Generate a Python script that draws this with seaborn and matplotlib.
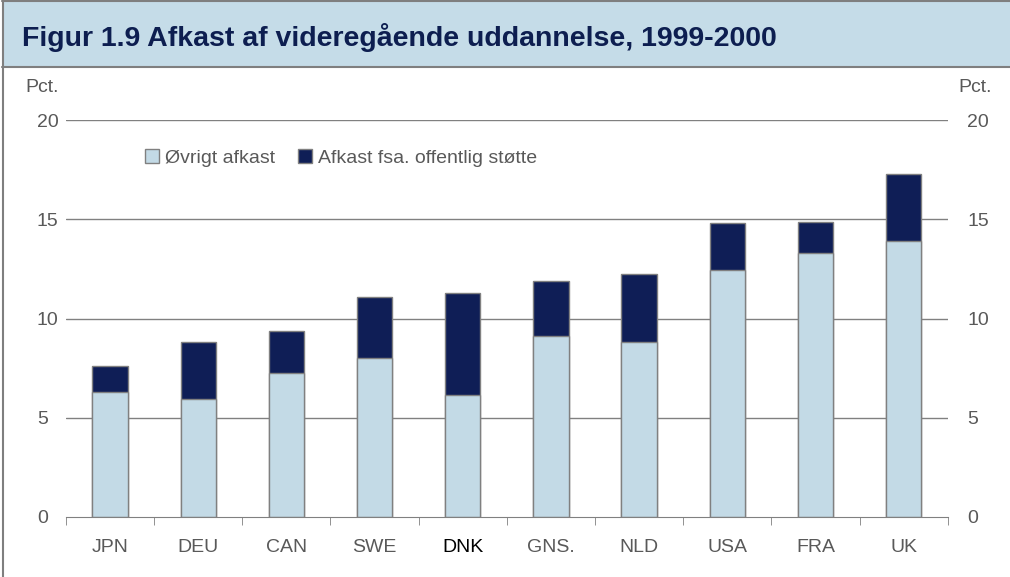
import pandas as pd
import matplotlib.pyplot as plt
import seaborn as sns
from matplotlib.patches import Rectangle, Patch

countries = ['JPN', 'DEU', 'CAN', 'SWE', 'DNK', 'GNS.', 'NLD', 'USA', 'FRA', 'UK']
ovrigt = [6.3, 5.95, 7.25, 8.0, 6.15, 9.1, 8.8, 12.45, 13.3, 13.9]
stotte = [1.3, 2.85, 2.1, 3.1, 5.15, 2.8, 3.45, 2.35, 1.55, 3.4]

light = '#C3DAE6'
dark = '#0F1E56'
grey = '#595959'

df = pd.DataFrame({'land': countries, 'ovrigt': ovrigt, 'stotte': stotte})
df['total'] = df['ovrigt'] + df['stotte']

sns.set_style('white')
plt.rcParams['font.family'] = ['Liberation Sans', 'DejaVu Sans']

fig = plt.figure(figsize=(10.1, 5.77), dpi=100)
ax = fig.add_axes([0.0653, 0.104, 0.873, 0.688])

# header band and frame
fig.patches.append(Rectangle((0.002, 0.885), 0.998, 0.113, transform=fig.transFigure,
                             facecolor='#C5DCE8', edgecolor='none', zorder=0))
fig.add_artist(plt.Line2D([0.002, 1], [0.884, 0.884], color='#7F7F7F', lw=1.5))
fig.add_artist(plt.Line2D([0.002, 1], [0.998, 0.998], color='#7F7F7F', lw=1.5))
fig.add_artist(plt.Line2D([0.003, 0.003], [0, 1], color='#7F7F7F', lw=1.5))
fig.text(0.022, 0.935, 'Figur 1.9 Afkast af videregående uddannelse, 1999-2000',
         fontsize=20.5, fontweight='bold', color='#0D1E50', va='center')

sns.barplot(data=df, x='land', y='total', color=dark, width=0.4, saturation=1,
            edgecolor='#808080', linewidth=1, ax=ax, zorder=3)
sns.barplot(data=df, x='land', y='ovrigt', color=light, width=0.4, saturation=1,
            edgecolor='#808080', linewidth=1, ax=ax, zorder=4)

ax.set_ylim(0, 20)
ax.set_xlim(-0.5, 9.5)
ax.set_yticks([0, 5, 10, 15, 20])
for y in [5, 10, 15, 20]:
    ax.axhline(y, color='#808080', lw=1, zorder=1)
for s in ['top', 'right', 'left']:
    ax.spines[s].set_visible(False)
ax.spines['bottom'].set_color('#808080')
ax.spines['bottom'].set_zorder(5)
ax.set_xlabel('')
ax.set_ylabel('')

ax.set_xticks([i + 0.5 for i in range(-1, 10)], minor=True)
ax.tick_params(axis='x', which='minor', length=6, color='#808080', direction='out', bottom=True)
ax.tick_params(axis='x', which='major', length=0, pad=16, labelsize=14, labelcolor=grey)
ax.tick_params(axis='y', length=0, pad=21, labelsize=14, labelcolor=grey, left=False)
for lbl in ax.get_xticklabels():
    if lbl.get_text() == 'DNK':
        lbl.set_color('black')
for lbl in ax.get_yticklabels():
    lbl.set_horizontalalignment('left')

ax2 = ax.twinx()
ax2.set_ylim(0, 20)
ax2.set_yticks([0, 5, 10, 15, 20])
ax2.tick_params(axis='y', length=0, pad=14, labelsize=14, labelcolor=grey, right=False)
for s in ax2.spines.values():
    s.set_visible(False)

fig.text(0.025, 0.84, 'Pct.', fontsize=14, color=grey)
fig.text(0.982, 0.84, 'Pct.', fontsize=14, color=grey, ha='right')

handles = [Patch(facecolor=light, edgecolor='#808080', label='Øvrigt afkast'),
           Patch(facecolor=dark, edgecolor='#808080', label='Afkast fsa. offentlig støtte')]
leg = ax.legend(handles=handles, loc='upper left', bbox_to_anchor=(0.07, 0.97), ncol=2,
                frameon=False, fontsize=14, handlelength=0.7, handleheight=0.7,
                handletextpad=0.3, columnspacing=1.2)
for t in leg.get_texts():
    t.set_color(grey)

fig.savefig('out.png', dpi=100)
